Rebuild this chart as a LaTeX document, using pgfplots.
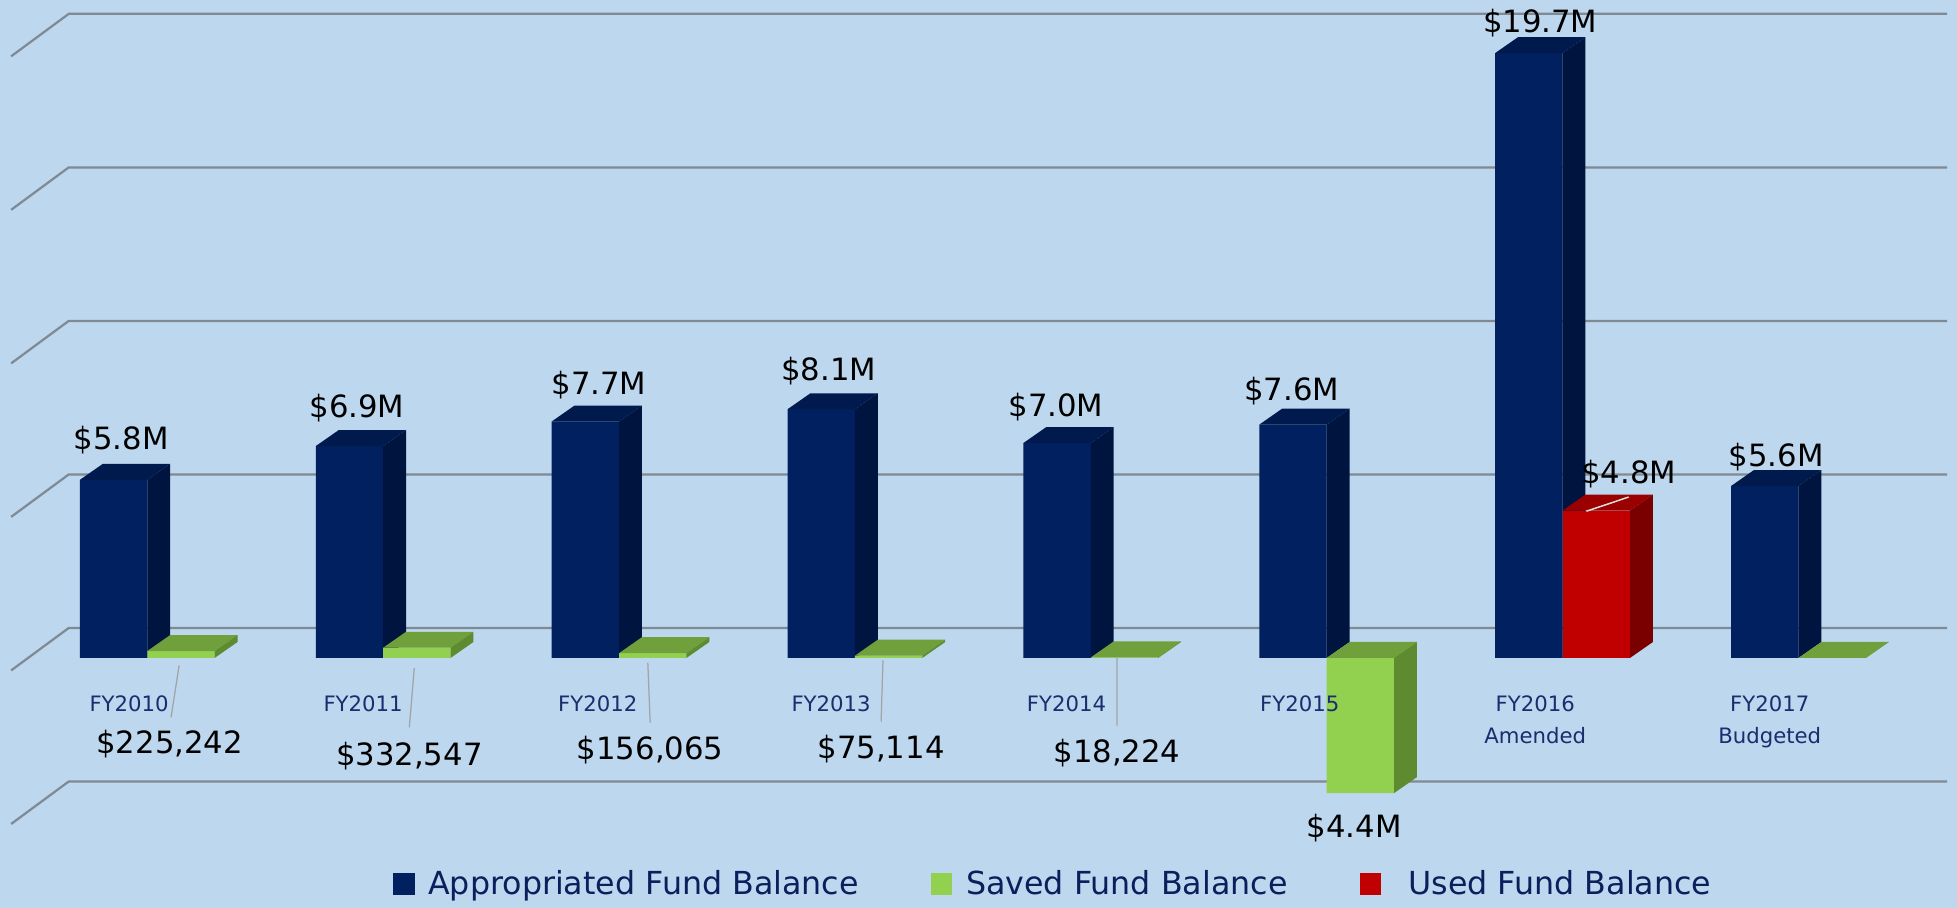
\documentclass[border=0pt]{standalone}
\usepackage{pgfplots}
\pgfplotsset{compat=1.18}
\usepackage{fontspec}
\setmainfont{DejaVu Sans}
\definecolor{bgblue}{HTML}{BDD7EE}
\definecolor{gridgray}{HTML}{808A94}
\definecolor{navyfront}{HTML}{002060}
\definecolor{navytop}{HTML}{001A4E}
\definecolor{navyside}{HTML}{001440}
\definecolor{greenfront}{HTML}{92D050}
\definecolor{greentop}{HTML}{70A03C}
\definecolor{greenside}{HTML}{5E8A30}
\definecolor{redfront}{HTML}{C00000}
\definecolor{redtop}{HTML}{9A0000}
\definecolor{redside}{HTML}{7A0000}
\definecolor{catnavy}{HTML}{1A2E6E}
\definecolor{legnavy}{HTML}{0B1F5C}
\definecolor{leadergray}{HTML}{A0A4A8}
\newcommand{\cbw}{0.2857}
\newcommand{\cdx}{0.097}
\newcommand{\cdy}{0.52}
% top and side faces of a bar, computed from its left edge and its value
\newcommand{\cuboid}[4]{%
  \pgfmathsetmacro\cxa{#1}%
  \pgfmathsetmacro\cxb{#1+\cbw}%
  \pgfmathsetmacro\cxc{#1+\cbw+\cdx}%
  \pgfmathsetmacro\cxd{#1+\cdx}%
  \pgfmathsetmacro\cylo{min(0,#2)}%
  \pgfmathsetmacro\cyhi{max(0,#2)}%
  \pgfmathsetmacro\cyhid{max(0,#2)+\cdy}%
  \pgfmathsetmacro\cylod{min(0,#2)+\cdy}%
  \edef\cubtmp{%
    \noexpand\addplot[fill=#3,draw=none,forget plot] coordinates {(\cxa,\cyhi) (\cxb,\cyhi) (\cxc,\cyhid) (\cxd,\cyhid)};
    \noexpand\addplot[fill=#4,draw=none,forget plot] coordinates {(\cxb,\cylo) (\cxb,\cyhi) (\cxc,\cyhid) (\cxc,\cylod)};
  }\cubtmp}
\newcommand{\vlab}{\fontsize{12.3}{14}\selectfont}
\begin{document}
\begin{tikzpicture}
\begin{axis}[
  scale only axis, width=784pt, height=363.5pt,
  xmin=-0.6243, xmax=7.672, ymin=-8.13, ymax=21.42,
  axis on top,
  axis line style={draw=none}, major tick length=0pt, ytick=\empty,
  xtick={-0.077,0.915,1.910,2.899,3.897,4.886,5.884,6.878},
  xticklabels={FY2010,FY2011,FY2012,FY2013,FY2014,FY2015,{FY2016\\Amended},{FY2017\\Budgeted}},
  xticklabel style={align=center, font=\fontsize{8.5}{13}\selectfont, text=catnavy, yshift=88.5pt},
  axis background/.style={fill=bgblue},
  clip=false,
  unbounded coords=jump,
  legend columns=3,
  legend style={at={(0.539,0.0261)}, anchor=center, draw=none, fill=none,
    font=\fontsize{12.7}{14}\selectfont, nodes={text=legnavy},
    /tikz/every even column/.append style={column sep=27pt}},
]
% gridlines on the back wall with the left wall diagonal
\addplot[gridgray, line width=0.9pt, forget plot] coordinates {
 (-0.577,-5.406) (-0.333,-4.024) (7.63,-4.024) (nan,nan)
 (-0.577,-0.406) (-0.333,0.976) (7.63,0.976) (nan,nan)
 (-0.577,4.594) (-0.333,5.976) (7.63,5.976) (nan,nan)
 (-0.577,9.594) (-0.333,10.976) (7.63,10.976) (nan,nan)
 (-0.577,14.594) (-0.333,15.976) (7.63,15.976) (nan,nan)
 (-0.577,19.594) (-0.333,20.976) (7.63,20.976)};
% Appropriated Fund Balance
\addplot[ybar, bar width=0.2857, bar shift=-0.14285, fill=navyfront, draw=none,
  legend image code/.code={\fill[navyfront] (0pt,-4.25pt) rectangle (8.5pt,4.25pt);}]
  coordinates {(0,5.8) (1,6.9) (2,7.7) (3,8.1) (4,7.0) (5,7.6) (6,19.7) (7,5.6)};
\addlegendentry{\hspace{3.5pt}Appropriated Fund Balance}
\cuboid{-0.2857}{5.8}{navytop}{navyside}
\cuboid{0.7143}{6.9}{navytop}{navyside}
\cuboid{1.7143}{7.7}{navytop}{navyside}
\cuboid{2.7143}{8.1}{navytop}{navyside}
\cuboid{3.7143}{7.0}{navytop}{navyside}
\cuboid{4.7143}{7.6}{navytop}{navyside}
\cuboid{5.7143}{19.7}{navytop}{navyside}
\cuboid{6.7143}{5.6}{navytop}{navyside}
% Saved Fund Balance
\addplot[ybar, bar width=0.2857, bar shift=0.14285, fill=greenfront, draw=none,
  legend image code/.code={\fill[greenfront] (0pt,-4.25pt) rectangle (8.5pt,4.25pt);}]
  coordinates {(0,0.225242) (1,0.332547) (2,0.156065) (3,0.075114) (4,0.018224) (5,-4.4) (7,0)};
\addlegendentry{\hspace{3.5pt}Saved Fund Balance}
\cuboid{0}{0.225242}{greentop}{greenside}
\cuboid{1}{0.332547}{greentop}{greenside}
\cuboid{2}{0.156065}{greentop}{greenside}
\cuboid{3}{0.075114}{greentop}{greenside}
\cuboid{4}{0.018224}{greentop}{greenside}
\cuboid{5}{-4.4}{greentop}{greenside}
\cuboid{7}{0}{greentop}{greenside}
% Used Fund Balance
\addplot[ybar, bar width=0.2857, bar shift=0.14285, fill=redfront, draw=none,
  legend image code/.code={\fill[redfront] (0pt,-4.25pt) rectangle (8.5pt,4.25pt);}]
  coordinates {(6,4.8)};
\addlegendentry{\hspace{9pt}Used Fund Balance}
\cuboid{6}{4.8}{redtop}{redside}
% leader lines
\addplot[leadergray, line width=0.5pt, forget plot] coordinates {
 (0.135,-0.244) (0.101,-1.93) (nan,nan)
 (1.132,-0.325) (1.111,-2.26) (nan,nan)
 (2.122,-0.163) (2.132,-2.11) (nan,nan)
 (3.119,-0.081) (3.111,-2.07) (nan,nan)
 (4.111,0) (4.111,-2.20)};
\addplot[white!75!gray, line width=0.6pt, forget plot] coordinates {(6.101,4.78) (6.280,5.24)};
% value labels
\node[font=\vlab] at (axis cs:-0.111,7.11) {\$5.8M};
\node[font=\vlab] at (axis cs:0.889,8.13) {\$6.9M};
\node[font=\vlab] at (axis cs:1.915,8.90) {\$7.7M};
\node[font=\vlab] at (axis cs:2.889,9.35) {\$8.1M};
\node[font=\vlab] at (axis cs:3.852,8.17) {\$7.0M};
\node[font=\vlab] at (axis cs:4.852,8.70) {\$7.6M};
\node[font=\vlab] at (axis cs:5.905,20.69) {\$19.7M};
\node[font=\vlab] at (axis cs:6.905,6.54) {\$5.6M};
\node[font=\vlab] at (axis cs:6.280,5.98) {\$4.8M};
\node[font=\vlab] at (axis cs:0.095,-2.80) {\$225,242};
\node[font=\vlab] at (axis cs:1.111,-3.21) {\$332,547};
\node[font=\vlab] at (axis cs:2.132,-3.01) {\$156,065};
\node[font=\vlab] at (axis cs:3.111,-2.97) {\$75,114};
\node[font=\vlab] at (axis cs:4.111,-3.09) {\$18,224};
\node[font=\vlab] at (axis cs:5.116,-5.53) {\$4.4M};
\end{axis}
\end{tikzpicture}
\end{document}
